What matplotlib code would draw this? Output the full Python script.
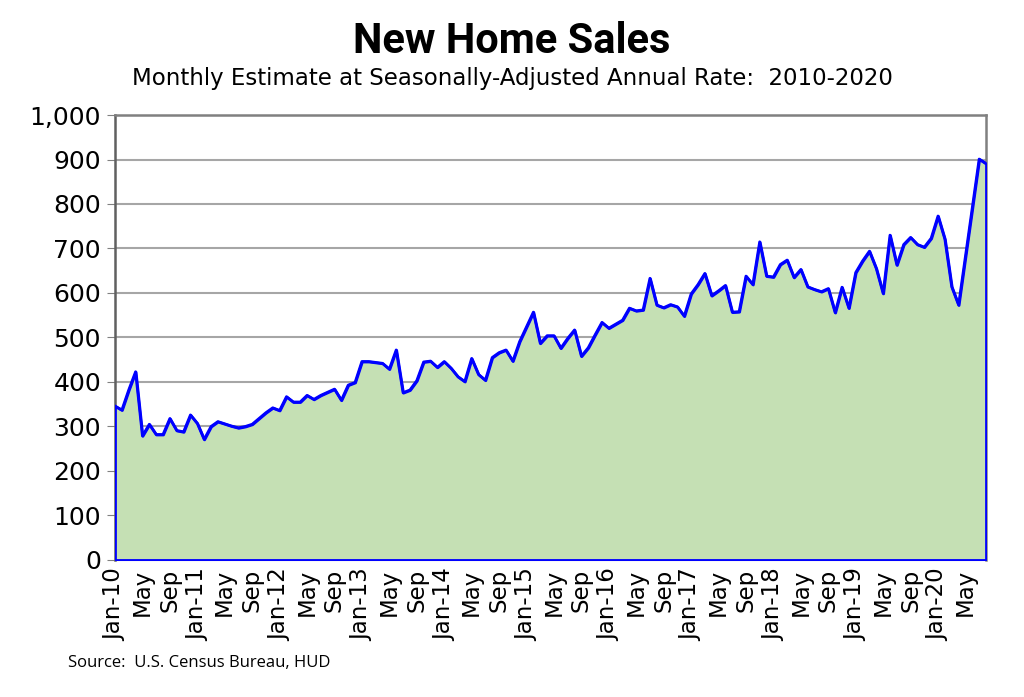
import numpy as np
import matplotlib.pyplot as plt

# New home sales, thousands, SAAR, Jan 2010 - Aug 2020
sales_2010 = [346, 337, 382, 423, 279, 305, 282, 282, 318, 291, 288, 326]
sales_2011 = [307, 271, 300, 311, 306, 301, 297, 300, 305, 318, 331, 342]
sales_2012 = [336, 367, 355, 355, 370, 361, 370, 377, 384, 359, 393, 399]
sales_2013 = [446, 446, 444, 442, 429, 472, 376, 382, 403, 445, 447, 433]
sales_2014 = [446, 431, 412, 401, 453, 417, 404, 455, 466, 472, 447, 491]
sales_2015 = [524, 557, 487, 504, 504, 476, 498, 517, 458, 477, 506, 534]
sales_2016 = [521, 530, 539, 566, 560, 562, 633, 573, 567, 574, 569, 548]
sales_2017 = [598, 619, 644, 594, 605, 617, 557, 558, 638, 619, 715, 638]
sales_2018 = [636, 664, 674, 635, 653, 614, 608, 603, 610, 556, 613, 566]
sales_2019 = [646, 672, 694, 655, 599, 730, 663, 709, 725, 709, 703, 723]
sales_2020 = [773, 721, 614, 573, 682, 791, 901, 891]

sales = sales_2010 + sales_2011 + sales_2012 + sales_2013 + sales_2014 + \
    sales_2015 + sales_2016 + sales_2017 + sales_2018 + sales_2019 + sales_2020

months = ['Jan', 'Feb', 'Mar', 'Apr', 'May', 'Jun',
          'Jul', 'Aug', 'Sep', 'Oct', 'Nov', 'Dec']
start_year = 2010

x = np.arange(len(sales))
labels = []
for i in x:
    m = months[i % 12]
    if m == 'Jan':
        labels.append(f"Jan-{(start_year + i // 12) % 100:02d}")
    else:
        labels.append(m)

fig = plt.figure(figsize=(10.24, 6.97), dpi=100)
ax = fig.add_axes([0.1123, 0.1966, 0.8506, 0.6384])

ax.fill_between(x, sales, 0, facecolor='#C5E0B4', edgecolor='#0000FF',
                linewidth=2, zorder=3)
ax.plot(x, sales, color='#0000FF', linewidth=2, zorder=4)

ax.set_xlim(0, len(sales) - 1)
ax.set_ylim(0, 1000)
ax.set_yticks(np.arange(0, 1001, 100))
ax.set_yticklabels([f"{v:,}" for v in range(0, 1001, 100)], fontsize=18)
ax.yaxis.grid(True, color='#A6A6A6', linewidth=1.5, zorder=0)
ax.set_axisbelow(True)

major = [i for i in x if i % 4 == 0]
ax.set_xticks(major)
ax.set_xticklabels([labels[i] for i in major], rotation=90, fontsize=16.5)
ax.set_xticks(x, minor=True)
ax.tick_params(axis='x', which='both', direction='in', length=7,
               color='#808080', pad=6)
ax.tick_params(axis='y', direction='out', length=6, color='#808080', pad=4)

for side in ['top', 'right']:
    ax.spines[side].set_color('#808080')
    ax.spines[side].set_linewidth(1.8)
ax.spines['left'].set_color('#606060')
ax.spines['left'].set_linewidth(1.8)
ax.spines['bottom'].set_color('#808080')

fig.text(0.5, 0.94, 'New Home Sales', ha='center', va='center',
         fontsize=30, fontweight='bold', family=['Roboto', 'DejaVu Sans'])
fig.text(0.5, 0.888, 'Monthly Estimate at Seasonally-Adjusted Annual Rate:  2010-2020',
         ha='center', va='center', fontsize=16.5)
fig.text(0.066, 0.049, 'Source:  U.S. Census Bureau, HUD', ha='left',
         va='center', fontsize=12, family=['Open Sans', 'DejaVu Sans'])

fig.savefig('out.png', dpi=100)
